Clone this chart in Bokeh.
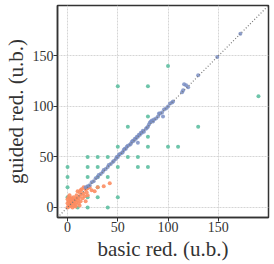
from bokeh.plotting import figure
from bokeh.models import FixedTicker, Slope, Range1d
from bokeh.embed import file_html
from bokeh.resources import INLINE

# green: discrete-valued estimates
green_x = [10, 20, 40, 0, 20, 30, 50, 0, 20, 30, 0, 20, 30, 40, 0, 20, 30, 50, 70, 80,
           20, 30, 40, 60, 70, 50, 80, 100, 110, 80, 60, 130, 80, 190, 50, 80, 100]
green_y = [0, 0, 0, 10, 10, 10, 10, 20, 20, 20, 30, 30, 30, 30, 40, 40, 40, 40, 40, 40,
           50, 50, 50, 50, 50, 60, 60, 60, 60, 70, 80, 80, 90, 110, 120, 120, 140]

# blue: close to the diagonal
blue_x = [18, 20, 22, 24, 26, 28, 30, 31, 33, 35, 36, 38, 40, 41, 43, 45, 46, 48, 49, 50,
          51, 52, 54, 55, 56, 57, 58, 59, 60, 62, 63, 64, 65, 66, 67, 68, 69, 70, 70, 71,
          72, 73, 74, 75, 76, 78, 79, 80, 81, 82, 83, 84, 85, 86, 88, 90, 91, 92, 94, 95,
          96, 98, 100, 102, 104, 105, 114, 115, 116, 118, 120, 130, 149, 172]
blue_y = [20, 21, 22, 25, 26, 29, 30, 32, 33, 35, 37, 38, 40, 42, 43, 45, 46, 48, 50, 50,
          52, 53, 54, 55, 57, 58, 58, 60, 61, 62, 63, 65, 66, 66, 68, 68, 70, 70, 64, 72,
          72, 74, 74, 76, 75, 78, 79, 80, 82, 84, 85, 86, 85, 87, 88, 90, 93, 93, 94, 90,
          97, 98, 100, 103, 104, 105, 114, 116, 122, 121, 119, 131, 149, 172]

# orange: small values
orange_x = [0, 1, 2, 0, 1, 2, 3, 3, 4, 4, 5, 5, 6, 6, 7, 7, 8, 8, 9, 9, 10, 10, 11, 11, 12,
            12, 13, 14, 14, 15, 16, 16, 17, 18, 18, 19, 20, 20, 22, 24, 27, 30, 36, 42,
            0, 1, 2, 3, 4, 5, 6, 8, 12, 13, 9]
orange_y = [0, 2, 1, 4, 6, 5, 3, 7, 2, 5, 0, 8, 4, 10, 6, 2, 8, 3, 5, 12, 7, 16, 9, 4, 11,
            15, 6, 13, 18, 9, 14, 20, 11, 18, 6, 15, 19, 12, 20, 17, 16, 20, 21, 24,
            8, 10, 12, 9, 9, 4, 6, 1, 2, 17, 9]

ticks = [0, 50, 100, 150]
x_label = "basic red. (u.b.)"
y_label = "guided red. (u.b.)"

p = figure(width=274, height=264, output_backend="svg", toolbar_location=None,
           x_range=Range1d(-10, 200), y_range=Range1d(-10, 200),
           min_border_left=57, min_border_right=6, min_border_top=5, min_border_bottom=47)
p.background_fill_color = "white"
p.border_fill_color = "white"
p.outline_line_color = "#333333"
p.outline_line_width = 1.5

p.add_layout(Slope(gradient=1, y_intercept=0, line_color="#777777",
                   line_dash="1 2", line_width=1.2))

p.scatter(green_x, green_y, size=4, color="#66c2a5", alpha=0.95, line_width=0)
p.scatter(orange_x, orange_y, size=4, color="#fc8d62", alpha=0.9, line_width=0)
p.scatter(blue_x, blue_y, size=4, color="#7b8fc4", alpha=0.85, line_width=0)

for ax in (p.xaxis, p.yaxis):
    ax.ticker = FixedTicker(ticks=ticks)
    ax.minor_tick_line_color = None
    ax.major_tick_in = 0
    ax.major_tick_out = 4
    ax.major_tick_line_color = "#333333"
    ax.axis_line_color = "#333333"
    ax.axis_line_width = 1.5
    ax.major_label_text_font = "Liberation Serif"
    ax.major_label_text_font_size = "14px"
    ax.major_label_text_color = "#333333"
    ax.axis_label_text_font = "Liberation Serif"
    ax.axis_label_text_font_size = "21px"
    ax.axis_label_text_font_style = "normal"
    ax.axis_label_text_color = "#333333"
    ax.major_label_standoff = 0
    ax.axis_label_standoff = 2

p.xaxis.axis_label = x_label
p.yaxis.axis_label = y_label

for g in (p.xgrid, p.ygrid):
    g.ticker = FixedTicker(ticks=ticks)
    g.grid_line_color = "#d5d5d5"
    g.grid_line_dash = "2 1"
    g.grid_line_width = 1

open("out.html", "w").write(file_html(p, INLINE))
